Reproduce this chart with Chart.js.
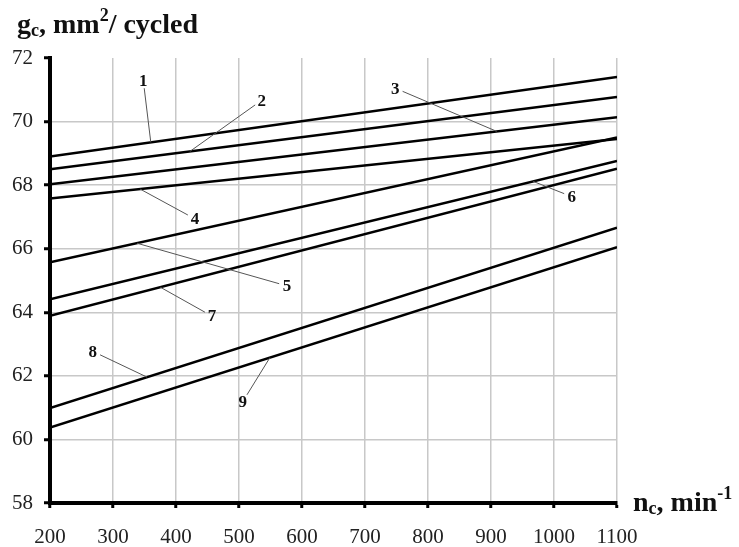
<!DOCTYPE html>
<html>
<head>
<meta charset="utf-8">
<script src="https://cdn.jsdelivr.net/npm/chart.js@4.4.0/dist/chart.umd.min.js"></script>
<style>
  html, body { margin: 0; padding: 0; background: #fff; }
  #wrap { width: 739px; height: 547px; position: relative; }
</style>
</head>
<body>
<div id="wrap"><canvas id="myChart"></canvas></div>
<script>
// rotation speed nc (min^-1) and chip section gc for the 9 curves
const nc = [200, 1100];
const curve1 = [68.9, 71.4];
const curve2 = [68.5, 70.77];
const curve3 = [68.03, 70.14];
const curve4 = [67.58, 69.45];
const curve5 = [65.57, 69.5];
const curve6 = [64.41, 68.76];
const curve7 = [63.89, 68.52];
const curve8 = [60.99, 66.66];
const curve9 = [60.37, 66.05];
const curves = [curve1, curve2, curve3, curve4, curve5, curve6, curve7, curve8, curve9];

// curve number labels: text position (nc, gc) and where the leader touches the curve (nc)
const labelNames = ['1', '2', '3', '4', '5', '6', '7', '8', '9'];
const labelX = [348, 536, 748, 430, 576, 1028, 457, 268, 506];
const labelY = [71.3, 70.67, 71.05, 66.94, 64.83, 67.64, 63.88, 62.77, 61.19];
const leaderX = [360, 422, 909, 343, 338, 967, 375, 354, 549];

const yMin = 58, yMax = 72, yStep = 2;
const xMin = 200, xMax = 1100, xStep = 100;

function valueAt(arr, x) {
  const t = (x - nc[0]) / (nc[1] - nc[0]);
  return arr[0] + t * (arr[1] - arr[0]);
}

const annotations = {
  id: 'annotations',
  afterDatasetsDraw(chart) {
    const c = chart.ctx;
    const xs = chart.scales.x, ys = chart.scales.y;
    c.save();
    // leaders + numbers
    labelNames.forEach((name, i) => {
      const lx = xs.getPixelForValue(labelX[i]);
      const ly = ys.getPixelForValue(labelY[i]);
      const tx = xs.getPixelForValue(leaderX[i]);
      const ty = ys.getPixelForValue(valueAt(curves[i], leaderX[i]));
      const dx = tx - lx, dy = ty - ly;
      const d = Math.sqrt(dx * dx + dy * dy);
      c.strokeStyle = '#555';
      c.lineWidth = 1;
      c.beginPath();
      c.moveTo(lx + dx / d * 8, ly + dy / d * 8);
      c.lineTo(tx, ty);
      c.stroke();
      c.fillStyle = '#111';
      c.font = 'bold 17px "Liberation Serif"';
      c.textAlign = 'center';
      c.textBaseline = 'middle';
      c.fillText(name, lx, ly + 1);
    });

    // axis titles with sub/superscripts
    c.fillStyle = '#111';
    c.textAlign = 'left';
    c.textBaseline = 'alphabetic';
    const big = 'bold 28px "Liberation Serif"';
    const small = 'bold 18px "Liberation Serif"';
    function run(parts, x, y) {
      parts.forEach(p => {
        c.font = p[1] ? small : big;
        c.fillText(p[0], x, y + (p[1] || 0));
        x += c.measureText(p[0]).width;
      });
    }
    run([['g'], ['c', 3], [', mm'], ['2', -12], ['/ cycled']], 17, 33);
    run([['n'], ['c', 3], [', min'], ['-1', -12]], 633, 511);
    c.restore();
  }
};

const ctx = document.getElementById('myChart').getContext('2d');
new Chart(ctx, {
  type: 'line',
  data: {
    datasets: curves.map((arr, i) => ({
      label: labelNames[i],
      data: nc.map((x, j) => ({ x: x, y: arr[j] })),
      borderColor: '#000',
      borderWidth: 2.5,
      pointRadius: 0,
      fill: false,
      tension: 0
    }))
  },
  options: {
    responsive: true,
    maintainAspectRatio: false,
    animation: false,
    layout: { padding: { left: 0, right: 122, top: 58, bottom: 0 } },
    plugins: { legend: { display: false }, tooltip: { enabled: false } },
    scales: {
      x: {
        type: 'linear',
        min: xMin, max: xMax,
        afterFit: s => { s.height = 44; },
        ticks: {
          stepSize: xStep, color: '#222', padding: 17,
          font: { family: 'Liberation Serif', size: 21 },
          callback: v => String(v)
        },
        grid: { color: '#c8c8c8', lineWidth: 1.5, tickColor: '#000', tickLength: 5, tickWidth: 3 },
        border: { color: '#000', width: 4 }
      },
      y: {
        min: yMin, max: yMax,
        afterFit: s => { s.width = 50; },
        ticks: { stepSize: yStep, color: '#222', padding: 11, font: { family: 'Liberation Serif', size: 21 } },
        grid: {
          color: c => (c.tick && c.tick.value === yMax ? 'rgba(0,0,0,0)' : '#c8c8c8'),
          lineWidth: 1.5, tickColor: '#000', tickLength: 6, tickWidth: 3
        },
        border: { color: '#000', width: 4 }
      }
    }
  },
  plugins: [annotations]
});
</script>
</body>
</html>
